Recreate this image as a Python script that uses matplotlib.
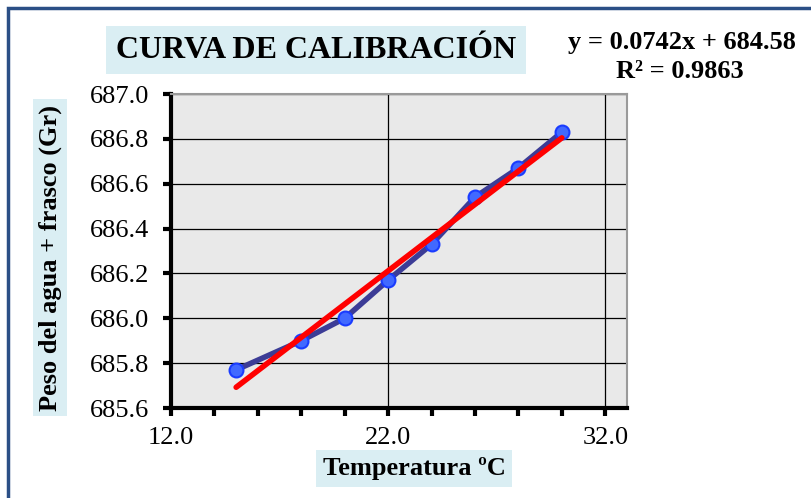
import matplotlib.pyplot as plt
import numpy as np
from matplotlib.patches import Rectangle
from matplotlib.ticker import MultipleLocator

plt.rcParams["font.family"] = ["Liberation Serif", "DejaVu Serif"]

# temperature (C) vs weight of water + flask (g)
temperatura = [15, 18, 20, 22, 24, 26, 28, 30]
peso = [685.77, 685.90, 686.00, 686.17, 686.33, 686.54, 686.67, 686.83]
ecuacion = "y = 0.0742x + 684.58"
r2 = "R² = 0.9863"

slope, intercept = np.polyfit(temperatura, peso, 1)
x_fit = np.array([min(temperatura), max(temperatura)])
y_fit = slope * x_fit + intercept

fig = plt.figure(figsize=(8.12, 4.98), dpi=100)
fig.patches.append(Rectangle((8 / 812, -0.05), 1.1, 1 - 8 / 498 + 0.05,
                             transform=fig.transFigure, fill=False,
                             edgecolor="#2b4f86", linewidth=2.5))

ax = fig.add_axes([171 / 812, 1 - 408 / 498, (627 - 171) / 812, (408 - 94) / 498])
ax.set_facecolor("#e9e9e9")

ax.plot(temperatura, peso, color="#3c3c96", linewidth=4, zorder=3,
        marker="o", markersize=10, markerfacecolor="#4169ff",
        markeredgecolor="#1a3cff", markeredgewidth=1.5)
ax.plot(x_fit, y_fit, color="#ff0000", linewidth=4, zorder=4,
        solid_capstyle="round")

ax.set_xlim(12, 33)
ax.set_ylim(685.6, 687.0)
ax.xaxis.set_major_locator(MultipleLocator(10, offset=2))
ax.xaxis.set_minor_locator(MultipleLocator(2))
ax.yaxis.set_major_locator(MultipleLocator(0.2))
ax.xaxis.set_major_formatter(lambda v, p: f"{v:.1f}")
ax.yaxis.set_major_formatter(lambda v, p: f"{v:.1f}")

ax.grid(True, which="major", color="black", linewidth=0.9)
ax.set_axisbelow(True)

for side in ("left", "bottom"):
    ax.spines[side].set_linewidth(3)
    ax.spines[side].set_color("black")
for side in ("top", "right"):
    ax.spines[side].set_linewidth(1.5)
    ax.spines[side].set_color("#9a9a9a")

ax.tick_params(which="both", direction="out", length=6, width=3,
               labelsize=19, pad=10)
ax.tick_params(axis="x", pad=8)

ax.set_xlabel("Temperatura ºC", fontsize=19, fontweight="bold",
              bbox=dict(facecolor="#daeef3", edgecolor="none", pad=5))
ax.xaxis.set_label_coords(0.533, -0.157)
ax.set_ylabel("Peso del agua + frasco (Gr)", fontsize=19, fontweight="bold",
              bbox=dict(facecolor="#daeef3", edgecolor="none", pad=4))
ax.yaxis.set_label_coords(-0.24, 0.478)

fig.text(316 / 812, 1 - 50 / 498, "CURVA DE CALIBRACIÓN", ha="center",
         va="center", fontsize=23, fontweight="bold",
         bbox=dict(facecolor="#daeef3", edgecolor="none", pad=7))
fig.text(682 / 812, 1 - 42 / 498, ecuacion, ha="center", va="center",
         fontsize=19, fontweight="bold")
fig.text(680 / 812, 1 - 72 / 498, r2, ha="center", va="center",
         fontsize=19, fontweight="bold")

fig.savefig("out.png", dpi=100)
